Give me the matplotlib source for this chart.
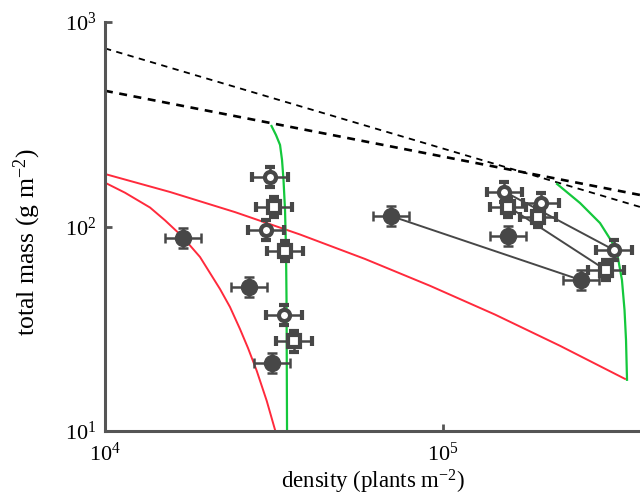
import matplotlib
matplotlib.use("Agg")
import matplotlib.pyplot as plt
import numpy as np

plt.rcParams["font.family"] = ["Liberation Serif", "DejaVu Serif"]
plt.rcParams["mathtext.fontset"] = "custom"
plt.rcParams["mathtext.rm"] = "Liberation Serif"
plt.rcParams["mathtext.it"] = "Liberation Serif:italic"

# measured points: density (plants m-2), total mass (g m-2)
filled_x = [17000, 26700, 31200, 70200, 155600, 255900]
filled_y = [87.9, 50.6, 21.5, 112.5, 89.9, 54.7]
ocirc_x = [30760, 29940, 33880, 152000, 194500, 320700]
ocirc_y = [174, 96, 36.9, 148, 129.8, 76.7]
osq_x = [31620, 34170, 36230, 156000, 191400, 303500]
osq_y = [125, 76.2, 27.4, 125, 110.9, 61.2]

# relative error (fraction) in density and mass
x_rel = 0.13
y_rel = 0.12

# trajectories linking harvests
link_filled = ([70200, 255900], [112.5, 54.7])
link_ocirc = ([152000, 320700], [148, 76.7])
link_osq = ([156000, 303500], [125, 61.2])

# self-thinning boundaries (dashed)
thin1_x = [1e4, 3.83e5]
thin1_y = [743, 124.6]
thin2_x = [1e4, 3.83e5]
thin2_y = [461, 142.6]

# model trajectories (green)
green1_x = [31090, 32060, 32950, 33400, 33740, 34090, 34320, 34440, 34560]
green1_y = [310, 280, 250.6, 211.4, 168.8, 120.4, 76.7, 43.7, 10.0]
green2_x = [217500, 254300, 291400, 316200, 329400, 338400, 344400, 347900, 350300]
green2_y = [161.4, 130.3, 104.0, 84.0, 70.1, 54.8, 39.0, 27.9, 17.8]

# model trajectories (red)
red1_x = [1e4, 15570, 24240, 37750, 58770, 91510, 142500, 221900, 345500]
red1_y = [180.6, 147.5, 117.6, 91.4, 69.4, 51.3, 37.1, 26.1, 17.98]
red2_x = [1e4, 11460, 13590, 15050, 16870, 19100, 21890, 23430, 25080,
          26490, 28110, 30090, 31840]
red2_y = [163.8, 146.3, 123.8, 107.2, 89.85, 70.96, 49.45, 40.4, 31.54,
          25.45, 19.7, 14.05, 10.14]

gray = "#474747"
spine = "#555555"

fig = plt.figure(figsize=(6.4, 4.95), dpi=100)
ax = fig.add_axes([105 / 640, 64 / 495, 535 / 640, 409 / 495])
ax.set_xscale("log")
ax.set_yscale("log")

ax.plot(thin1_x, thin1_y, color="black", lw=1.3, dashes=(3.5, 3), zorder=1)
ax.plot(thin2_x, thin2_y, color="black", lw=1.9, dashes=(3, 2.5), zorder=1)
ax.plot(red1_x, red1_y, color="#ff2a3c", lw=1.4, zorder=1)
ax.plot(red2_x, red2_y, color="#ff2a3c", lw=1.4, zorder=1)
ax.plot(green1_x, green1_y, color="#14c83c", lw=1.6, zorder=1)
ax.plot(green2_x, green2_y, color="#14c83c", lw=1.6, zorder=1)

for lx, ly in (link_filled, link_ocirc, link_osq):
    ax.plot(lx, ly, color=gray, lw=1.4, zorder=2)


def errs(v, rel):
    v = np.asarray(v, dtype=float)
    return [v - v / (1 + rel), v * rel]


kw = dict(ls="none", ecolor=gray, elinewidth=1.8, capsize=3.6, capthick=1.8, zorder=3)
ax.errorbar(filled_x, filled_y, xerr=errs(filled_x, x_rel), yerr=errs(filled_y, y_rel),
            marker="o", ms=11.5, mfc=gray, mec=gray, **kw)
ax.errorbar(ocirc_x, ocirc_y, xerr=errs(ocirc_x, x_rel), yerr=errs(ocirc_y, y_rel),
            marker="o", ms=8, mfc="white", mec=gray, mew=3, **kw)
ax.errorbar(osq_x, osq_y, xerr=errs(osq_x, x_rel), yerr=errs(osq_y, y_rel),
            marker="s", ms=8, mfc="white", mec=gray, mew=3, **kw)

ax.set_xlim(1e4, 10 ** (4 + 535 / 338))
ax.set_ylim(10, 1000)
ax.set_xticks([1e4, 1e5])
ax.set_yticks([10, 100, 1000])
ax.minorticks_off()
ax.spines["top"].set_visible(False)
ax.spines["right"].set_visible(False)
for s in ("left", "bottom"):
    ax.spines[s].set_color(spine)
    ax.spines[s].set_linewidth(2.2)
ax.tick_params(direction="in", length=5, width=2, color=spine, labelsize=16, pad=6)
ax.tick_params(axis="x", pad=8)

ax.set_xlabel(r"density (plants m$^{-2}$)", fontsize=16.5)
ax.xaxis.set_label_coords(0.5, -0.09)
ax.set_ylabel(r"total mass (g m$^{-2}$)", fontsize=18.5)
ax.yaxis.set_label_coords(-0.116, 0.461)

fig.savefig("out.png", dpi=100)
